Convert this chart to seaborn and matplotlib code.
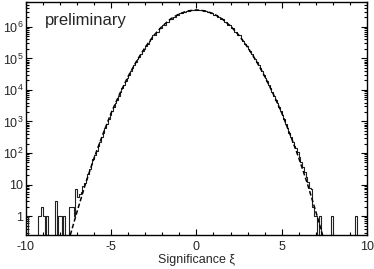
import numpy as np
import matplotlib
matplotlib.use("Agg")
import matplotlib.pyplot as plt
from matplotlib.ticker import FixedLocator, FuncFormatter, LogLocator, MultipleLocator
import seaborn as sns

sns.set_style("ticks")
plt.rcParams['font.family'] = ['Liberation Sans', 'DejaVu Sans']
plt.rcParams['mathtext.fontset'] = 'custom'
plt.rcParams['mathtext.rm'] = 'Liberation Sans'
plt.rcParams['axes.unicode_minus'] = False

# histogram counts
# sparse outer tails: bin centre -> count (0.1 wide bins)
left_tail_x = [-9.95, -9.25, -9.15, -9.05, -8.95, -8.75, -8.25, -8.05, -7.95, -7.75,
               -7.45, -7.35, -7.25, -7.15, -7.05, -6.95, -6.85, -6.75, -6.65]
left_tail_n = [1, 1, 1, 2, 1, 1, 3, 1, 1, 1,
               2, 2, 2, 1, 7, 4, 5, 6, 9]
right_tail_x = [6.65, 6.75, 6.85, 6.95, 7.05, 7.25, 7.95, 9.35]
right_tail_n = [8, 7, 2, 1, 1, 1, 1, 1]

# flanks, 0.1 wide bins from -6.6 to -2.6 and from 2.6 to 6.6
left_flank_n = [11, 15, 21, 31, 45, 63, 86, 118, 164, 230, 321, 446, 610, 840,
                1160, 1590, 2140, 2840, 3760, 4980, 6590, 8630, 11200, 14500,
                18700, 24200, 30800, 38600, 48400, 60700, 76000, 94000, 115000,
                140000, 170000, 207000, 249000, 296000, 351000, 416000]
right_flank_n = [416000, 351000, 296000, 249000, 207000, 170000, 140000, 115000,
                 94000, 76000, 60700, 48400, 38600, 30800, 24200, 18700, 14500,
                 11200, 8630, 6590, 4980, 3760, 2840, 2140, 1590, 1160, 840, 610,
                 446, 321, 230, 164, 140, 105, 75, 52, 36, 25, 17, 12]

# centre, 0.2 wide bins from -2.6 to 2.6
centre_n = [540000, 710000, 930000, 1190000, 1470000, 1820000, 2110000, 2440000,
            2740000, 2980000, 3240000, 3330000, 3420000,
            3420000, 3330000, 3240000, 2980000, 2740000, 2440000, 2110000,
            1820000, 1470000, 1190000, 930000, 710000, 540000]

# dashed model curve
curve_x = [-7.4, -7.0, -6.5, -6.0, -5.5, -5.0, -4.5, -4.0, -3.5, -3.0, -2.5, -2.0,
           -1.5, -1.0, -0.5, 0.0, 0.5, 1.0, 1.5, 2.0, 2.5, 3.0, 3.5, 4.0, 4.5,
           5.0, 5.5, 6.0, 6.5, 7.0, 7.4]
curve_y = [0.25, 1.4, 11, 71, 380, 1900, 7600, 27500, 85000, 230000, 540000, 1070000,
           1820000, 2630000, 3240000, 3470000, 3240000, 2630000, 1820000, 1070000, 540000, 230000, 85000, 27500, 7600,
           1900, 380, 71, 11, 1.4, 0.25]

x_ticks = [-10, -5, 0, 5, 10]
y_ticks = [1, 10, 1e2, 1e3, 1e4, 1e5, 1e6]

# bin grid
left_flank_x = np.round(np.arange(-6.55, -2.6, 0.1), 2)
right_flank_x = np.round(np.arange(2.65, 6.6, 0.1), 2)
centre_x = np.round(np.arange(-2.5, 2.6, 0.2), 2)
edges = np.concatenate([np.arange(-10.0, -2.6, 0.1), np.arange(-2.6, 2.6, 0.2),
                        np.arange(2.6, 10.05, 0.1)])
edges = [float(e) for e in np.round(edges, 2)]

hist_x = (left_tail_x + list(left_flank_x) + list(centre_x) + list(right_flank_x)
          + right_tail_x)
hist_n = left_tail_n + left_flank_n + centre_n + right_flank_n + right_tail_n

fig = plt.figure(figsize=(3.74, 2.69), dpi=100)
ax = fig.add_axes([0.0695, 0.1264, 0.9115, 0.8662])

sns.histplot(x=hist_x, weights=hist_n, bins=edges, element="step", fill=False,
             color="#222222", linewidth=0.8, ax=ax)
sns.lineplot(x=curve_x, y=curve_y, color="black", linewidth=1.1, ax=ax,
             dashes=False, linestyle=(0, (3, 1.6)))

ax.set_yscale("log")
ax.set_xlim(-10, 10)
ax.set_ylim(0.25, 6.2e6)

def ylab(v, pos):
    n = int(round(np.log10(v)))
    if n == 0:
        return "1"
    if n == 1:
        return "10"
    return r"$\mathregular{10^{%d}}$" % n

ax.yaxis.set_major_locator(FixedLocator(y_ticks))
ax.yaxis.set_major_formatter(FuncFormatter(ylab))
ax.yaxis.set_minor_locator(LogLocator(base=10, subs=np.arange(2, 10), numticks=20))
ax.xaxis.set_major_locator(FixedLocator(x_ticks))
ax.xaxis.set_minor_locator(MultipleLocator(1))

ax.tick_params(which="both", direction="in", top=True, right=True, labelsize=9,
               width=0.8, color="black")
ax.tick_params(which="major", length=4.5)
ax.tick_params(which="minor", length=2.2)
ax.tick_params(axis="x", pad=4)
ax.tick_params(axis="y", pad=2)
for s in ax.spines.values():
    s.set_linewidth(1.0)
    s.set_color("black")

ax.set_ylabel("")
ax.set_xlabel("Significance \u03be", fontsize=9, labelpad=1)
ax.text(0.056, 0.90, "preliminary", transform=ax.transAxes, fontsize=12,
        va="baseline", ha="left")

fig.savefig("out.png", dpi=100)
